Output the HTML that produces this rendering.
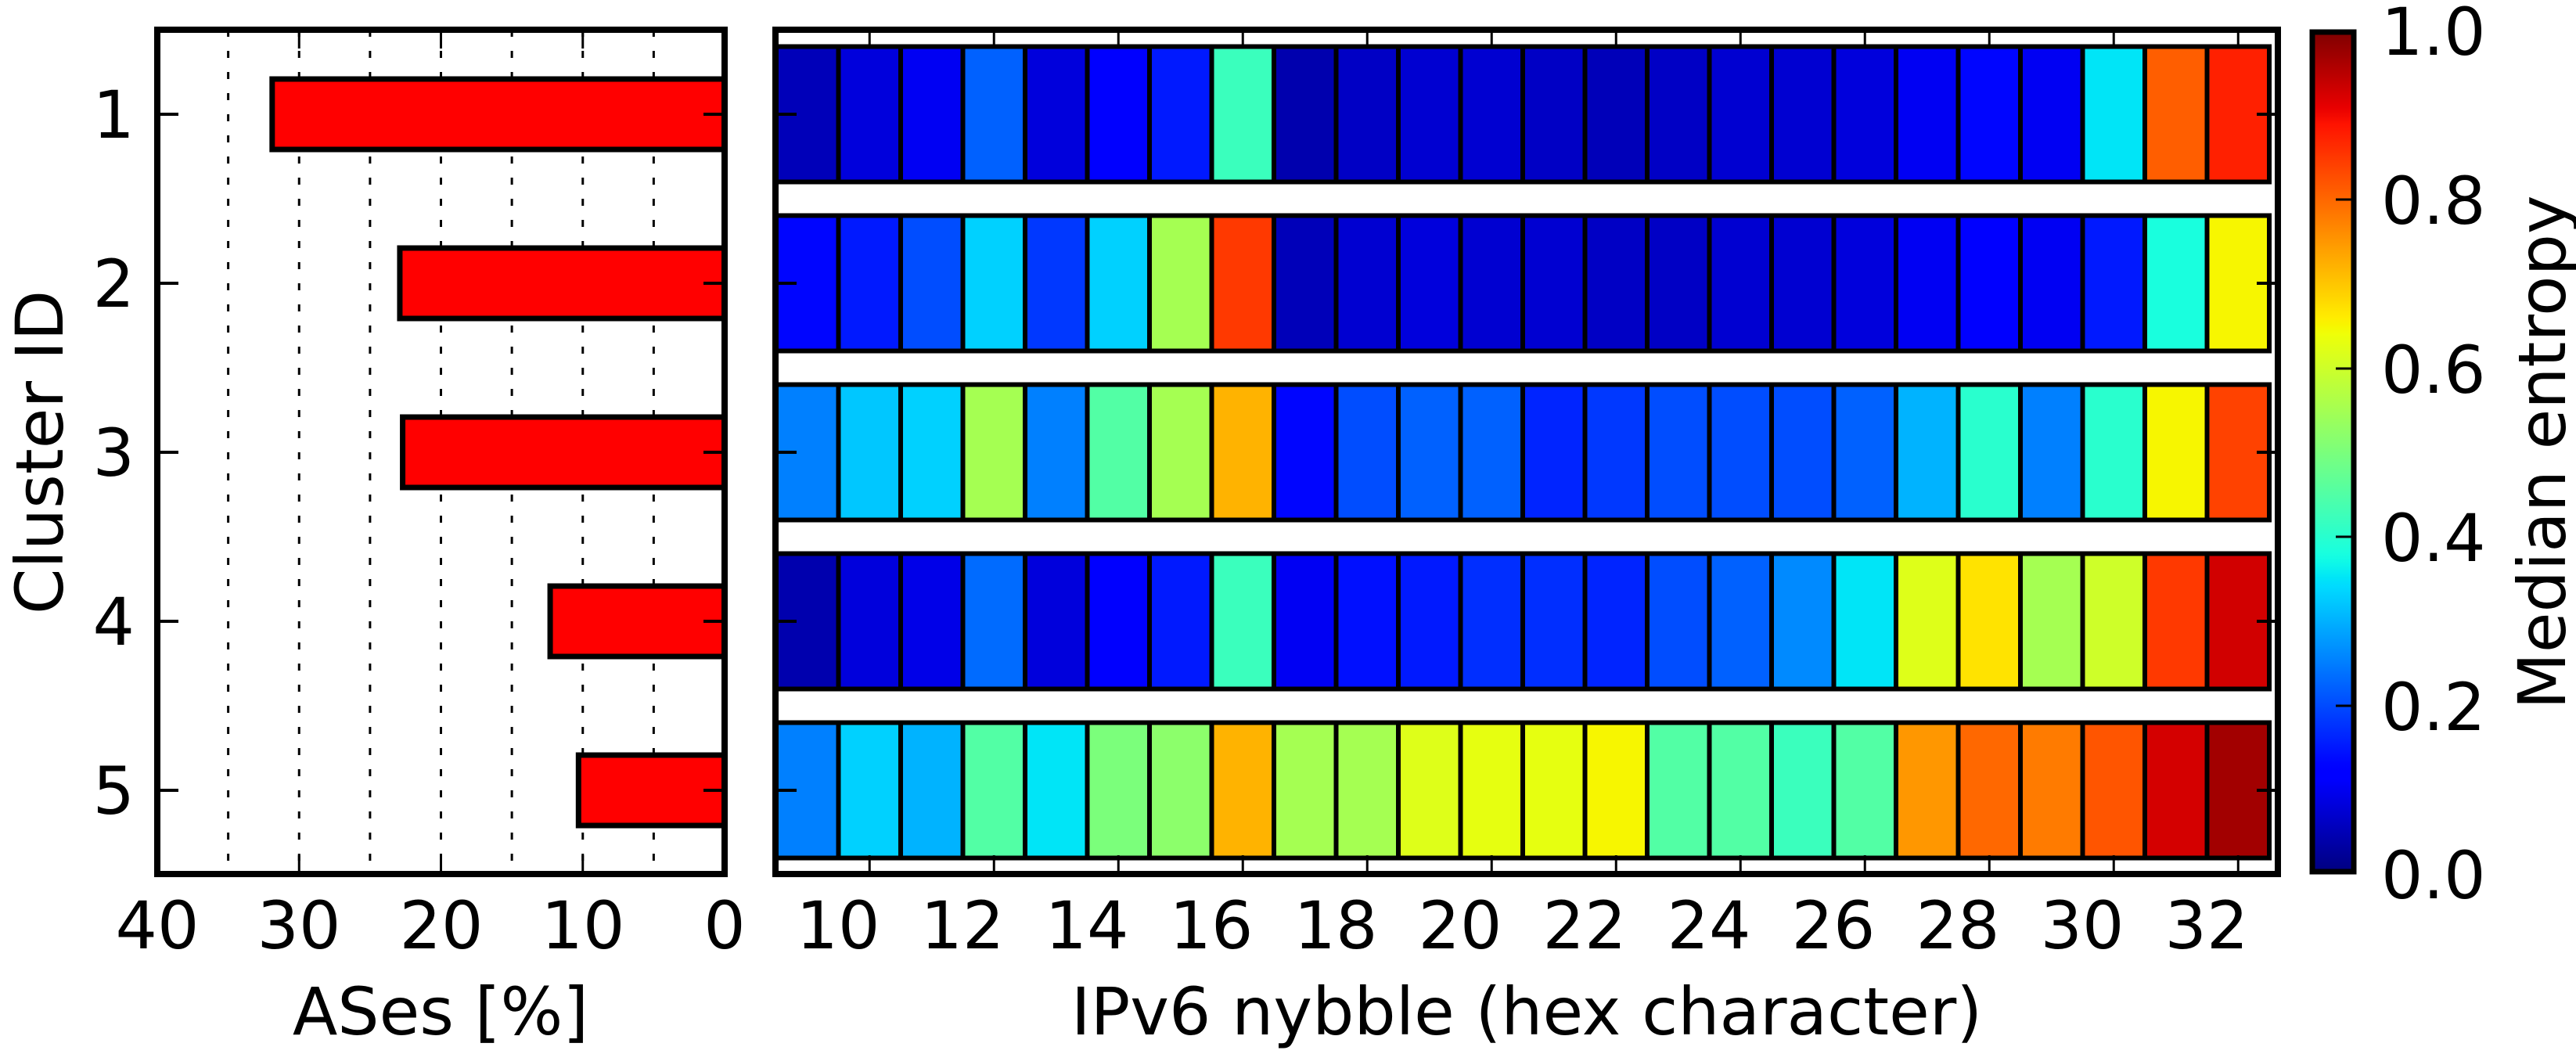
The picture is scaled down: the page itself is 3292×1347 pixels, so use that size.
<!DOCTYPE html>
<html><head><meta charset="utf-8"><style>
html,body{margin:0;padding:0;background:#fff;}
svg{display:block;}
text{font-family:"DejaVu Sans","Liberation Sans",sans-serif;font-size:84px;fill:#000;}
</style></head><body>
<svg id="s" width="3292" height="1347" xmlns="http://www.w3.org/2000/svg">
<defs>
<linearGradient id="jet" x1="0" y1="1" x2="0" y2="0"></linearGradient>
</defs>
<g id="left"></g>
<g id="cells"></g>
<g text-anchor="end">
<text x="172" y="176">1</text>
<text x="172" y="392">2</text>
<text x="172" y="608">3</text>
<text x="172" y="824">4</text>
<text x="172" y="1040">5</text>
</g>
<g text-anchor="middle">
<text x="201" y="1212">40</text>
<text x="382" y="1212">30</text>
<text x="564" y="1212">20</text>
<text x="745" y="1212">10</text>
<text x="926" y="1212">0</text>
<text x="563" y="1322">ASes [%]</text>
<text x="1071" y="1212">10</text>
<text x="1230" y="1212">12</text>
<text x="1389" y="1212">14</text>
<text x="1548" y="1212">16</text>
<text x="1707" y="1212">18</text>
<text x="1866" y="1212">20</text>
<text x="2025" y="1212">22</text>
<text x="2184" y="1212">24</text>
<text x="2343" y="1212">26</text>
<text x="2502" y="1212">28</text>
<text x="2661" y="1212">30</text>
<text x="2820" y="1212">32</text>
<text x="1951" y="1322">IPv6 nybble (hex character)</text>
</g>
<text transform="translate(80,578) rotate(-90)" text-anchor="middle">Cluster ID</text>
<text transform="translate(3278,578) rotate(-90)" text-anchor="middle">Median entropy</text>
<rect x="2955" y="41" width="53" height="1073" fill="url(#jet)" stroke="#000" stroke-width="7"/>
<g stroke="#000" stroke-width="3">
<line x1="2985" y1="255" x2="3005" y2="255"/><line x1="2985" y1="471" x2="3005" y2="471"/>
<line x1="2985" y1="686" x2="3005" y2="686"/><line x1="2985" y1="902" x2="3005" y2="902"/>
</g>
<g>
<text x="3043" y="70">1.0</text>
<text x="3043" y="286">0.8</text>
<text x="3043" y="502">0.6</text>
<text x="3043" y="717">0.4</text>
<text x="3043" y="933">0.2</text>
<text x="3043" y="1148">0.0</text>
</g>
</svg>
<script>
const NS="http://www.w3.org/2000/svg";
function el(p,t,a){const e=document.createElementNS(NS,t);for(const k in a)e.setAttribute(k,a[k]);p.appendChild(e);return e;}
function interp(pts,x){for(let i=0;i<pts.length-1;i++){const[a,va]=pts[i],[b,vb]=pts[i+1];if(x>=a&&x<=b)return va+(vb-va)*(x-a)/(b-a);}return pts[pts.length-1][1];}
const R=[[0,0],[0.35,0],[0.66,1],[0.89,1],[1,0.5]],G=[[0,0],[0.125,0],[0.375,1],[0.64,1],[0.91,0],[1,0]],B=[[0,0.5],[0.11,1],[0.34,1],[0.65,0],[1,0]];
function jet(x){return `rgb(${Math.round(interp(R,x)*255)},${Math.round(interp(G,x)*255)},${Math.round(interp(B,x)*255)})`;}
const grad=document.getElementById('jet');
for(let i=0;i<=100;i++){el(grad,'stop',{offset:i/100,'stop-color':jet(i/100)});}
const L=document.getElementById('left');
const yc=k=>38+(k-0.5)*216;
const xs=v=>926-v*18.125;
for(let v=5;v<=35;v+=5){el(L,'line',{x1:xs(v),y1:38,x2:xs(v),y2:1117,stroke:'#000','stroke-width':3,'stroke-dasharray':'9,18'});}
const bars=[31.9,22.9,22.7,12.3,10.3];
bars.forEach((b,i)=>{const y=yc(i+1);el(L,'rect',{x:xs(b),y:y-45,width:926-xs(b),height:90,fill:'#ff0000',stroke:'#000','stroke-width':7});
 el(L,'line',{x1:201,y1:y,x2:228,y2:y,stroke:'#000','stroke-width':4});el(L,'line',{x1:899,y1:y,x2:926,y2:y,stroke:'#000','stroke-width':4});});
for(let v=0;v<=40;v+=10){el(L,'line',{x1:xs(v),y1:38,x2:xs(v),y2:62,stroke:'#000','stroke-width':3});el(L,'line',{x1:xs(v),y1:1093,x2:xs(v),y2:1117,stroke:'#000','stroke-width':3});}
el(L,'rect',{x:201,y:38,width:725,height:1079,fill:'none',stroke:'#000','stroke-width':8});
const V=[
[0.05,0.08,0.1,0.22,0.08,0.12,0.15,0.42,0.04,0.06,0.07,0.07,0.06,0.05,0.06,0.07,0.07,0.08,0.1,0.13,0.1,0.35,0.81,0.876],
[0.13,0.15,0.2,0.33,0.18,0.33,0.55,0.85,0.05,0.07,0.08,0.07,0.07,0.06,0.06,0.07,0.07,0.08,0.1,0.12,0.1,0.15,0.38,0.65],
[0.25,0.32,0.33,0.55,0.25,0.45,0.55,0.72,0.13,0.2,0.22,0.22,0.16,0.18,0.2,0.2,0.2,0.22,0.3,0.4,0.25,0.4,0.65,0.84],
[0.04,0.08,0.09,0.23,0.08,0.12,0.15,0.42,0.1,0.14,0.15,0.17,0.17,0.16,0.2,0.22,0.26,0.35,0.62,0.67,0.55,0.6,0.85,0.93],
[0.25,0.33,0.3,0.45,0.35,0.5,0.52,0.72,0.55,0.55,0.62,0.63,0.63,0.65,0.45,0.45,0.42,0.45,0.75,0.8,0.78,0.82,0.927,0.97]];
const C=document.getElementById('cells');
const X0=992,W=79.5;
V.forEach((row,i)=>{const y=yc(i+1);row.forEach((v,j)=>{el(C,'rect',{x:X0+j*W,y:y-86.5,width:W,height:173,fill:jet(v),stroke:'#000','stroke-width':6});});
 el(C,'line',{x1:991,y1:y,x2:1018,y2:y,stroke:'#000','stroke-width':4});el(C,'line',{x1:2884,y1:y,x2:2911,y2:y,stroke:'#000','stroke-width':4});});
for(let n=10;n<=32;n+=2){const x=X0+(n-8.5)*W;el(C,'line',{x1:x,y1:38,x2:x,y2:62,stroke:'#000','stroke-width':3});el(C,'line',{x1:x,y1:1093,x2:x,y2:1117,stroke:'#000','stroke-width':3});}
el(C,'rect',{x:991,y:38,width:1920,height:1079,fill:'none',stroke:'#000','stroke-width':8});
</script>
</body></html>
